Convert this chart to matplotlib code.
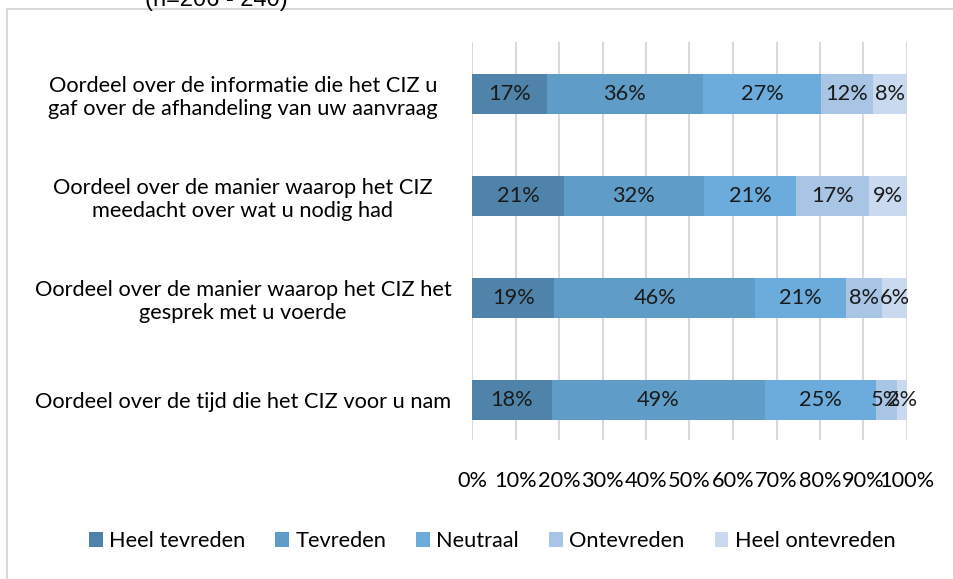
import matplotlib.pyplot as plt
from matplotlib.patches import Rectangle
import numpy as np

plt.rcParams['font.family'] = ['Lato', 'DejaVu Sans']

# vragen (van onder naar boven)
vragen = ['Oordeel over de tijd die het CIZ voor u nam',
          'Oordeel over de manier waarop het CIZ het\ngesprek met u voerde',
          'Oordeel over de manier waarop het CIZ\nmeedacht over wat u nodig had',
          'Oordeel over de informatie die het CIZ u\ngaf over de afhandeling van uw aanvraag']
categorieen = ['Heel tevreden', 'Tevreden', 'Neutraal', 'Ontevreden', 'Heel ontevreden']
kleuren = ['#4f83aa', '#609cc8', '#6bacdd', '#a8c5e5', '#c9daf0']

heel_tevreden = [18.3, 18.9, 21.1, 17.2]
tevreden = [49.1, 46.2, 32.2, 35.9]
neutraal = [25.4, 20.9, 21.2, 27.1]
ontevreden = [4.9, 8.3, 16.8, 12.0]
heel_ontevreden = [2.3, 5.7, 8.7, 7.8]
reeksen = [heel_tevreden, tevreden, neutraal, ontevreden, heel_ontevreden]

fs = 15.7

fig = plt.figure(figsize=(9.54, 5.79), dpi=100)
# kader rond de grafiek
fig.patches.append(Rectangle((7/954, -0.1), 1.0, 1 - 9/579 + 0.1, transform=fig.transFigure,
                             fill=False, edgecolor='#d9d9d9', linewidth=1.5))
fig.text(145/954, 1 - 6/579, '(n=206 - 240)', fontsize=17, family='Liberation Sans',
         va='baseline', ha='left')

ax = fig.add_axes([472/954, 1 - 440/579, 435/954, 398/579])
y = np.arange(len(vragen))
links = np.zeros(len(vragen))
for naam, waarden, kleur in zip(categorieen, reeksen, kleuren):
    waarden = np.array(waarden) / 100
    ax.barh(y, waarden, left=links, height=0.39, color=kleur, label=naam, zorder=3)
    for yi, l, w in zip(y, links, waarden):
        ax.text(l + w / 2, yi, f'{round(w * 100):.0f}%', ha='center', va='center',
                fontsize=fs, color='#1a1a1a', zorder=4)
    links += waarden

ax.set_xlim(0, 1)
ax.set_ylim(-0.39, 3.51)
ax.set_xticks(np.arange(0, 1.01, 0.1))
ax.set_xticklabels([f'{int(round(v * 100))}%' for v in np.arange(0, 1.01, 0.1)], fontsize=fs)
ax.set_yticks(y)
ax.set_yticklabels(vragen, fontsize=fs, ha='center', linespacing=1.2)
ax.tick_params(axis='y', length=0, pad=229 * 0.72)
ax.tick_params(axis='x', length=0, pad=22)
ax.grid(axis='x', color='#d9d9d9', linewidth=1.5, zorder=0)
for s in ax.spines.values():
    s.set_visible(False)

ax.legend(loc='center', bbox_to_anchor=(492/954, 1 - 541/579), bbox_transform=fig.transFigure,
          ncol=5, frameon=False, fontsize=fs, handlelength=0.64, handleheight=0.64,
          handletextpad=0.28, columnspacing=1.38)

fig.savefig('out.png', dpi=100)
